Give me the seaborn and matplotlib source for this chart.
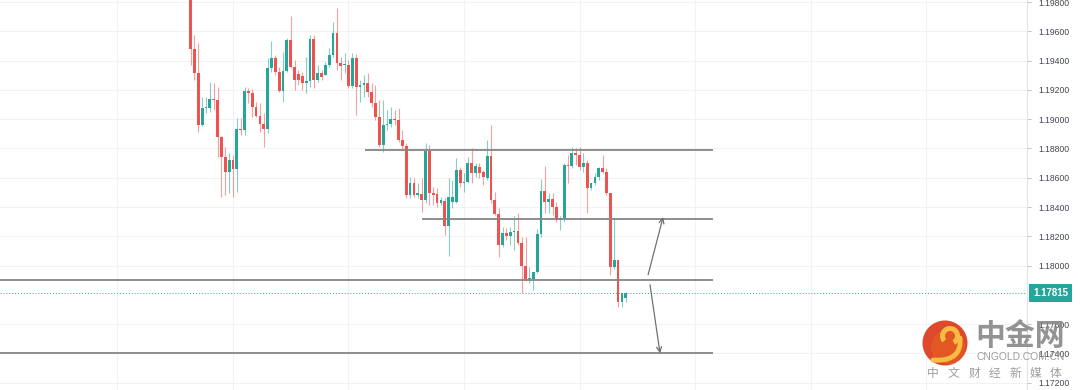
import numpy as np
import pandas as pd
import matplotlib
matplotlib.use("Agg")
import matplotlib.pyplot as plt
import seaborn as sns
from matplotlib.patches import Circle, Wedge
from matplotlib.ticker import FuncFormatter

# ---------------- data ----------------
opens = [1.19900, 1.19479, 1.19315, 1.18960, 1.19076, 1.19076, 1.19138, 1.19131, 1.18878, 1.18742,
         1.18639, 1.18721, 1.18660, 1.18933, 1.18926, 1.19192, 1.19179, 1.19083, 1.19022, 1.18967,
         1.18933, 1.19350, 1.19418, 1.19322, 1.19192, 1.19329, 1.19541, 1.19356, 1.19309, 1.19295,
         1.19247, 1.19261, 1.19548, 1.19268, 1.19315, 1.19302, 1.19370, 1.19438, 1.19589, 1.19384,
         1.19370, 1.19370, 1.19227, 1.19418, 1.19220, 1.19233, 1.19247, 1.19186, 1.19111, 1.19015,
         1.18824, 1.18960, 1.18967, 1.19001, 1.18994, 1.18858, 1.18817, 1.18482, 1.18564, 1.18482,
         1.18489, 1.18448, 1.18783, 1.18496, 1.18489, 1.18428, 1.18441, 1.18270, 1.18434, 1.18434,
         1.18653, 1.18564, 1.18571, 1.18701, 1.18632, 1.18673, 1.18639, 1.18598, 1.18749, 1.18448,
         1.18352, 1.18141, 1.18223, 1.18202, 1.18229, 1.18236, 1.18154, 1.17997, 1.17908, 1.17908,
         1.17956, 1.18216, 1.18509, 1.18434, 1.18455, 1.18400, 1.18311, 1.18318, 1.18687, 1.18680,
         1.18769, 1.18755, 1.18673, 1.18701, 1.18530, 1.18564, 1.18605, 1.18667, 1.18639, 1.18496,
         1.17990, 1.18038, 1.17751, 1.17779]
closes = [1.19479, 1.19315, 1.18960, 1.19076, 1.19083, 1.19138, 1.19131, 1.18878, 1.18742, 1.18639,
          1.18721, 1.18660, 1.18933, 1.18926, 1.19192, 1.19179, 1.19083, 1.19022, 1.18967, 1.18933,
          1.19350, 1.19418, 1.19322, 1.19192, 1.19329, 1.19541, 1.19356, 1.19268, 1.19268, 1.19247,
          1.19261, 1.19548, 1.19268, 1.19315, 1.19288, 1.19370, 1.19438, 1.19589, 1.19384, 1.19363,
          1.19377, 1.19227, 1.19418, 1.19220, 1.19233, 1.19247, 1.19186, 1.19111, 1.19015, 1.18824,
          1.18960, 1.18967, 1.19001, 1.18994, 1.18858, 1.18817, 1.18482, 1.18564, 1.18482, 1.18496,
          1.18448, 1.18783, 1.18496, 1.18482, 1.18428, 1.18448, 1.18270, 1.18468, 1.18468, 1.18653,
          1.18564, 1.18571, 1.18701, 1.18632, 1.18680, 1.18632, 1.18605, 1.18749, 1.18448, 1.18352,
          1.18141, 1.18223, 1.18202, 1.18229, 1.18236, 1.18154, 1.17997, 1.17908, 1.17915, 1.17956,
          1.18216, 1.18509, 1.18434, 1.18455, 1.18400, 1.18311, 1.18325, 1.18687, 1.18680, 1.18769,
          1.18755, 1.18673, 1.18701, 1.18530, 1.18564, 1.18605, 1.18667, 1.18639, 1.18496, 1.17990,
          1.18038, 1.17751, 1.17813, 1.17815]
highs = [1.19950, 1.19575, 1.19520, 1.19151, 1.19151, 1.19254, 1.19247, 1.19220, 1.18885, 1.18810,
         1.18769, 1.18755, 1.19008, 1.19008, 1.19220, 1.19213, 1.19206, 1.19117, 1.19111, 1.19042,
         1.19418, 1.19534, 1.19438, 1.19356, 1.19459, 1.19554, 1.19705, 1.19404, 1.19336, 1.19322,
         1.19425, 1.19575, 1.19575, 1.19370, 1.19336, 1.19391, 1.19486, 1.19664, 1.19759, 1.19425,
         1.19452, 1.19404, 1.19452, 1.19445, 1.19268, 1.19302, 1.19315, 1.19247, 1.19233, 1.19131,
         1.19131, 1.19063, 1.19083, 1.19063, 1.19076, 1.18926, 1.18837, 1.18605, 1.18598, 1.18564,
         1.18598, 1.18837, 1.18824, 1.18537, 1.18530, 1.18468, 1.18462, 1.18598, 1.18585, 1.18735,
         1.18673, 1.18632, 1.18742, 1.18803, 1.18701, 1.18701, 1.18653, 1.18858, 1.18960, 1.18503,
         1.18393, 1.18264, 1.18257, 1.18264, 1.18339, 1.18359, 1.18195, 1.18195, 1.17990, 1.17956,
         1.18250, 1.18591, 1.18680, 1.18496, 1.18496, 1.18434, 1.18339, 1.18701, 1.18755, 1.18810,
         1.18803, 1.18810, 1.18769, 1.18721, 1.18564, 1.18632, 1.18673, 1.18755, 1.18667, 1.18496,
         1.18325, 1.18038, 1.17813, 1.17820]
lows = [1.19370, 1.19268, 1.18912, 1.18955, 1.19042, 1.19049, 1.19063, 1.18742, 1.18468, 1.18482,
        1.18496, 1.18468, 1.18503, 1.18892, 1.18892, 1.19111, 1.19015, 1.19015, 1.18912, 1.18810,
        1.18906, 1.19322, 1.19302, 1.19186, 1.19117, 1.19322, 1.19350, 1.19199, 1.19233, 1.19199,
        1.19179, 1.19220, 1.19213, 1.19254, 1.19268, 1.19302, 1.19356, 1.19425, 1.19336, 1.19268,
        1.19315, 1.19213, 1.19213, 1.19029, 1.19117, 1.19151, 1.19151, 1.19083, 1.18994, 1.18810,
        1.18776, 1.18926, 1.18947, 1.18960, 1.18844, 1.18790, 1.18462, 1.18462, 1.18468, 1.18462,
        1.18366, 1.18428, 1.18414, 1.18414, 1.18400, 1.18414, 1.18209, 1.18066, 1.18393, 1.18428,
        1.18537, 1.18503, 1.18564, 1.18564, 1.18605, 1.18598, 1.18550, 1.18585, 1.18428, 1.18346,
        1.18059, 1.18127, 1.18175, 1.18141, 1.18106, 1.18141, 1.17813, 1.17895, 1.17881, 1.17833,
        1.17949, 1.18195, 1.18359, 1.18359, 1.18346, 1.18298, 1.18243, 1.18298, 1.18564, 1.18667,
        1.18687, 1.18653, 1.18639, 1.18359, 1.18516, 1.18550, 1.18585, 1.18632, 1.18482, 1.17936,
        1.17977, 1.17717, 1.17717, 1.17751]

price_ticks = [1.172, 1.174, 1.176, 1.180, 1.182, 1.184, 1.186, 1.188, 1.190,
               1.192, 1.194, 1.196, 1.198]
last_price = 1.17815

# drawn support / resistance levels (price, start bar, end bar)
levels = [1.18792, 1.18317, 1.17903, 1.17401]
level_start = [45.3, 60.1, -49.5, -49.5]
level_end = [135.7, 135.7, 135.7, 135.7]

# projection arrows: (bar_from, price_from, bar_to, price_to)
arrows_from_bar = [118.8, 119.3]
arrows_from_price = [1.17937, 1.17869]
arrows_to_bar = [122.7, 121.9]
arrows_to_price = [1.18331, 1.17401]

grid_bars = [-19, 11, 41, 71, 101, 131, 161, 191]

# ---------------- style ----------------
sns.set_theme(style="white")
plt.rcParams["font.family"] = ["Liberation Sans", "DejaVu Sans"]

UP = "#26a69a"
DN = "#ef5350"

df = pd.DataFrame({"o": opens, "h": highs, "l": lows, "c": closes})
df["i"] = np.arange(len(df))
df["up"] = df["c"] >= df["o"]
colors = np.where(df["up"], UP, DN)

fig = plt.figure(figsize=(10.8, 3.9), dpi=100)
fig.patch.set_facecolor("white")
ax = fig.add_axes([0, 0, 1027 / 1080, 1])
ax.set_facecolor("white")

# wicks
ax.vlines(df["i"], df["l"], df["h"], colors=colors, lw=0.8, alpha=0.55, zorder=3)
# bodies
body_bottom = np.minimum(df["o"], df["c"])
body_h = np.maximum(np.abs(df["c"] - df["o"]), 0.000025)
ax.bar(df["i"], body_h, bottom=body_bottom, width=0.72, color=colors,
       linewidth=0, zorder=4)

# current price dotted line
ax.axhline(last_price, color=UP, ls=(0, (1, 2)), lw=0.7, zorder=2)

# levels
ax.hlines(levels, level_start, level_end, color="#858585", lw=1.3, zorder=5)

# arrows
for xf, yf, xt, yt in zip(arrows_from_bar, arrows_from_price, arrows_to_bar, arrows_to_price):
    ax.annotate("", xy=(xt, yt), xytext=(xf, yf),
                arrowprops=dict(arrowstyle="->", color="#707070", lw=0.9,
                                shrinkA=0, shrinkB=0, mutation_scale=9),
                zorder=6)

ax.set_xlim(-49.5, 217.2)
ax.set_ylim(1.17150, 1.19814)

ax.set_yticks(price_ticks)
ax.yaxis.set_major_formatter(FuncFormatter(lambda v, p: f"{v:.5f}"))
ax.yaxis.tick_right()
ax.tick_params(axis="y", direction="out", length=3, width=0.6, color="#b2b5be",
               pad=5, labelsize=6.2, labelcolor="#434651")
ax.set_xticks(grid_bars)
ax.tick_params(axis="x", length=0, labelbottom=False)
ax.grid(True, color="#f0f2f6", lw=0.8, zorder=0)
ax.set_axisbelow(True)
for s in ["top", "left", "bottom"]:
    ax.spines[s].set_visible(False)
ax.spines["right"].set_color("#e0e3eb")
ax.spines["right"].set_linewidth(0.8)

# price label box
ax.annotate(f"{last_price:.5f}", xy=(1, last_price), xycoords=("axes fraction", "data"),
            xytext=(4.3, 0), textcoords="offset points", ha="left", va="center",
            color="white", fontsize=7, fontweight="bold",
            bbox=dict(boxstyle="square,pad=0.4", fc=UP, ec="none"),
            annotation_clip=False, zorder=10)

# ---------------- watermark (pixel overlay) ----------------
ov = fig.add_axes([0, 0, 1, 1], zorder=5)
ov.set_xlim(0, 1080)
ov.set_ylim(390, 0)
ov.axis("off")
ov.patch.set_alpha(0)

ov.add_patch(Circle((945, 343), 22.5, fc="#dd3f1f", ec="none", alpha=0.95))
ov.add_patch(Circle((948, 347), 17, fc="#e8621f", ec="none", alpha=0.6))
ov.add_patch(Wedge((950, 336), 10, 140, 420, width=5, fc="#f6bd45", ec="none"))
t = np.linspace(0, 1, 30)
bx = (1 - t) ** 2 * 960 + 2 * (1 - t) * t * 962 + t ** 2 * 933
by = (1 - t) ** 2 * 338 + 2 * (1 - t) * t * 362 + t ** 2 * 360
ov.plot(bx, by, color="#f6bd45", lw=3.5, solid_capstyle="round")

cjk = ["Noto Sans CJK SC", "DejaVu Sans"]
ov.text(1020, 336, "中金网", ha="center", va="center", fontsize=21.5,
        fontweight="bold", color="#8a8a8a", family=cjk, alpha=0.92)
ov.text(1021, 357.5, "CNGOLD.COM.CN", ha="center", va="center", fontsize=7.4,
        color="#959595", alpha=0.92)
for k, ch in enumerate("中文财经新媒体"):
    ov.text(933 + k * 20.5, 373, ch, ha="center", va="center", fontsize=8.5,
            color="#959595", family=cjk, alpha=0.92)

fig.savefig("out.png", dpi=100, facecolor="white")
